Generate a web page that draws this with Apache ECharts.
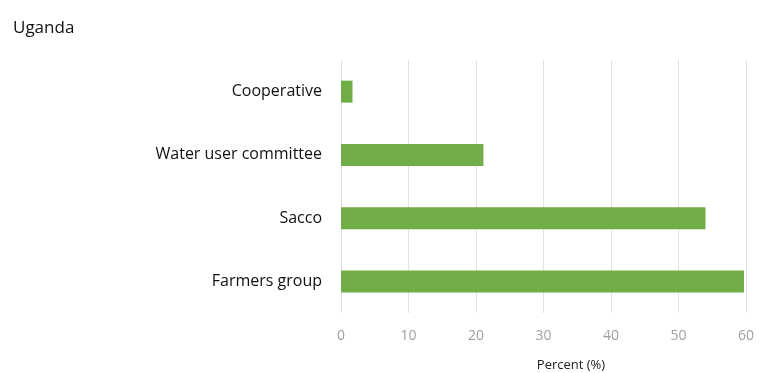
<!DOCTYPE html>
<html>
<head>
<meta charset="utf-8">
<script src="https://cdn.jsdelivr.net/npm/echarts@6/dist/echarts.min.js"></script>
<style>html,body{margin:0;padding:0;background:#fff;}#c{width:763px;height:373px;}</style>
</head>
<body>
<div id="c"></div>
<script>
const categories = ['Farmers group', 'Sacco', 'Water user committee', 'Cooperative'];
const values = [59.7, 54.0, 21.1, 1.7];
const xTicks = [0, 10, 20, 30, 40, 50, 60];

const chart = echarts.init(document.getElementById('c'));
chart.setOption({
  animation: false,
  backgroundColor: '#fff',
  textStyle: { fontFamily: 'Open Sans' },
  title: {
    text: 'Uganda', left: 8, top: 15,
    textStyle: { fontSize: 17, fontWeight: 'normal', color: '#111', fontFamily: 'Open Sans' }
  },
  grid: { left: 341, right: 17, top: 60, height: 253, outerBoundsMode: 'none', containLabel: false },
  xAxis: {
    type: 'value', min: xTicks[0], max: xTicks[xTicks.length - 1], interval: 10,
    axisLine: { show: false }, axisTick: { show: false },
    splitLine: { lineStyle: { color: '#e2e2e2', width: 1 } },
    axisLabel: { color: '#a0a0a0', fontSize: 14, margin: 16 },
    name: 'Percent (%)', nameLocation: 'middle', nameGap: 46,
    nameTextStyle: { fontSize: 13, color: '#222', padding: [0, 0, 0, 55] }
  },
  yAxis: {
    type: 'category', data: categories,
    axisLine: { show: false }, axisTick: { show: false },
    axisLabel: { color: '#111', fontSize: 16, margin: 19 }
  },
  series: [{
    type: 'bar', data: values, barWidth: 22,
    itemStyle: { color: '#70ad47' }
  }]
});
</script>
</body>
</html>
